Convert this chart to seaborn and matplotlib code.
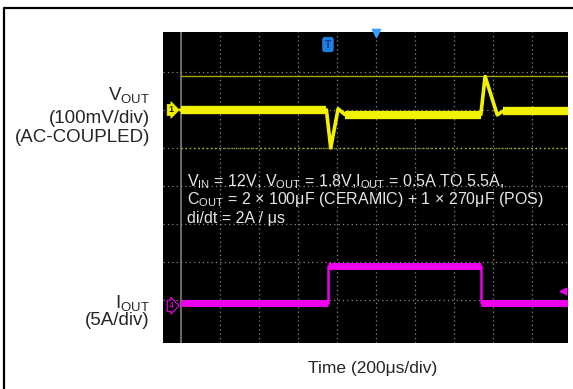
import numpy as np
import pandas as pd
import matplotlib
matplotlib.use('Agg')
import matplotlib.pyplot as plt
from matplotlib.lines import Line2D
import seaborn as sns

# Scope traces in divisions (x: time div, y: vertical div from bottom)
vout_t = [0.0, 3.73, 3.84, 4.03, 4.20, 7.68, 7.79, 8.10, 8.25, 9.95]
vout_v = [6.00, 6.00, 5.00, 6.03, 5.88, 5.88, 6.88, 5.87, 5.97, 5.97]

iout_t = [0.0, 3.76, 3.76, 7.68, 7.68, 9.95]
iout_v = [0.92, 0.92, 1.90, 1.90, 0.92, 0.92]

# cursor levels (div)
cursor_solid = 6.89
cursor_dotted = 5.0

scope_lines = [
    r"V$_{\mathrm{IN}}$ = 12V, V$_{\mathrm{OUT}}$ = 1.8V,I$_{\mathrm{OUT}}$ = 0.5A TO 5.5A,",
    r"C$_{\mathrm{OUT}}$ = 2 × 100μF (CERAMIC) + 1 × 270μF (POS)",
    "di/dt = 2A / μs",
]

YELLOW = '#f2f200'
MAGENTA = '#ee00ee'
W, H = 573, 389

sns.set_style('white')
plt.rcParams['font.family'] = ['Liberation Sans', 'DejaVu Sans']
plt.rcParams['mathtext.fontset'] = 'custom'
plt.rcParams['mathtext.rm'] = 'Liberation Sans'
plt.rcParams['mathtext.it'] = 'Liberation Sans:italic'
plt.rcParams['mathtext.bf'] = 'Liberation Sans:bold'

fig = plt.figure(figsize=(W / 100, H / 100), dpi=100)
fig.patch.set_facecolor('white')

# black scope screen: px 163..568 in x, 32..343 in y
ax = fig.add_axes([163 / W, 1 - 343 / H, (568 - 163) / W, (343 - 32) / H])
ax.set_facecolor('black')
ax.set_xlim(-0.45, 9.91)
ax.set_ylim(-0.13, 8.05)
ax.set_xticks([])
ax.set_yticks([])
for s in ax.spines.values():
    s.set_visible(False)

# graticule
for k in range(1, 10):
    ax.axvline(k, ls=(0, (1, 2.5)), color='#8a8a8a', lw=0.9, zorder=1)
for k in range(1, 8):
    ax.axhline(k, ls=(0, (1, 2.5)), color='#8a8a8a', lw=0.9, zorder=1)
ax.axvline(0, color='#8a8a8a', lw=1.1, zorder=1)

# cursors
ax.plot([0, 9.91], [cursor_solid, cursor_solid], color='#a6a600', lw=1.0, zorder=2)
ax.plot([0, 9.91], [cursor_dotted, cursor_dotted], color='#b5b500',
        ls=(0, (1, 2)), lw=1.0, zorder=2)


def draw_trace(t, v, color, thin, thick):
    df = pd.DataFrame({'t': t, 'v': v})
    sns.lineplot(data=df, x='t', y='v', color=color, lw=thin, sort=False,
                 estimator=None, ax=ax, zorder=3)
    # flat parts of the trace look much thicker on the screen
    for i in range(len(t) - 1):
        if abs(v[i + 1] - v[i]) < 0.05 and t[i + 1] - t[i] > 0.1:
            ax.plot(t[i:i + 2], v[i:i + 2], color=color, lw=thick,
                    solid_capstyle='butt', zorder=3)


draw_trace(vout_t, vout_v, YELLOW, 2.6, 6.0)
draw_trace(iout_t, iout_v, MAGENTA, 1.8, 5.0)
ax.set_xlabel('')
ax.set_ylabel('')

# channel flags on the left edge
ax.text(-0.25, vout_v[0], '1', fontsize=6.5, color='#202000', ha='center', va='center',
        fontweight='bold',
        bbox=dict(boxstyle='rarrow,pad=0.12', fc=YELLOW, ec=YELLOW, lw=0.5), zorder=5)
ax.text(-0.25, iout_v[0] - 0.07, '4', fontsize=6.5, color=MAGENTA, ha='center', va='center',
        bbox=dict(boxstyle='rarrow,pad=0.12', fc='black', ec=MAGENTA, lw=0.8), zorder=5)

# trigger markers
ax.text(3.77, 7.72, 'T', fontsize=7.5, color='#0b3d8c', ha='center', va='center',
        fontweight='bold',
        bbox=dict(boxstyle='round,pad=0.18', fc='#1f7fe0', ec='#1f7fe0'), zorder=5)
ax.scatter([5.0], [8.02], marker='v', s=35, color='#3a9cff', zorder=5, clip_on=False)
ax.scatter([9.78], [1.24], marker='<', s=22, color=MAGENTA, zorder=5)

# test conditions on the screen
for line, yb in zip(scope_lines, [3.98, 3.53, 3.03]):
    ax.text(0.17, yb, line, fontsize=11.5, color='#e6e6e6', ha='left', va='baseline', zorder=4)

# left channel labels
fig.text(150 / W, 1 - 100 / H, r"V$_{\mathrm{OUT}}$", ha='right', va='baseline', fontsize=13.5)
fig.text(150 / W, 1 - 123 / H, "(100mV/div)", ha='right', va='baseline', fontsize=13.5)
fig.text(150 / W, 1 - 142 / H, "(AC-COUPLED)", ha='right', va='baseline', fontsize=13.5)
fig.text(150 / W, 1 - 308 / H, r"I$_{\mathrm{OUT}}$", ha='right', va='baseline', fontsize=13.5)
fig.text(150 / W, 1 - 325 / H, "(5A/div)", ha='right', va='baseline', fontsize=13.5)

fig.text(373 / W, 1 - 373 / H, "Time (200μs/div)", ha='center', va='baseline', fontsize=12.5)

# outer frame (top and left edges visible)
fig.add_artist(Line2D([4 / W, 4 / W, 1.0], [0.0, 1 - 8 / H, 1 - 8 / H],
                      transform=fig.transFigure, color='black', lw=1.6))

fig.savefig('out.png', dpi=100, facecolor='white')
